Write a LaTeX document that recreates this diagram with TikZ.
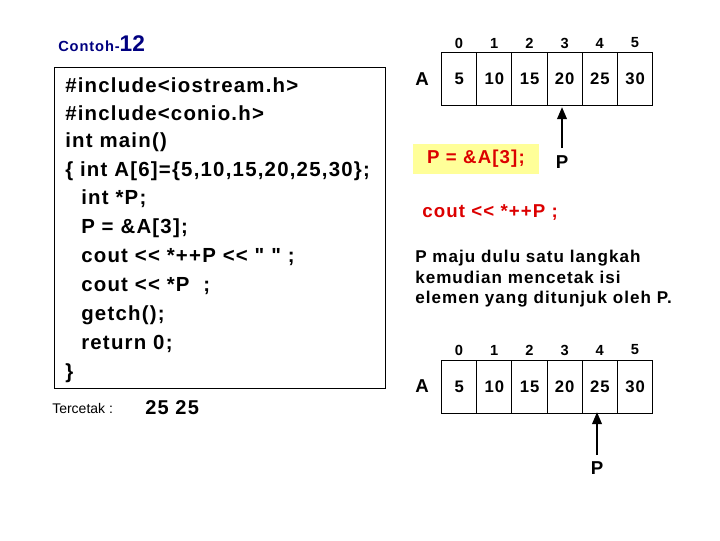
\documentclass[tikz,border=0pt]{standalone}
\usepackage{fontspec}
\setmainfont{Liberation Sans}[Ligatures=TeXOff]
\newfontfamily\wide{Liberation Sans}[Ligatures=TeXOff,LetterSpace=6]
\usetikzlibrary{arrows.meta}
\definecolor{navy}{RGB}{0,0,128}
\definecolor{redt}{RGB}{220,0,0}
\definecolor{yel}{RGB}{255,255,153}
\tikzset{code/.style={anchor=west,inner sep=0pt,font=\wide\fontsize{15.3}{16}\selectfont\bfseries},
 cell/.style={draw,line width=0.8pt,minimum width=26.4pt,minimum height=40pt,inner sep=0pt,anchor=north west,font=\wide\fontsize{12.5}{14}\selectfont\bfseries},
 idx/.style={font=\fontsize{11}{13}\selectfont\bfseries,inner sep=0pt},
 lbl/.style={font=\fontsize{14}{15}\selectfont\bfseries,inner sep=0pt},
 ptr/.style={-{Triangle[length=9pt,width=7pt]},line width=1.8pt}}
\begin{document}
\begin{tikzpicture}[x=0.75pt,y=-0.75pt]
\useasboundingbox (0,0) rectangle (720,540);
\node[anchor=west,inner sep=0pt,text=navy,font=\bfseries] (title) at (58,44) {{\wide\fontsize{11}{12}\selectfont Contoh-}{\fontsize{17}{18}\selectfont 12}};
\draw[line width=0.6pt] (54,67) rectangle (385,388);
\node[code] (c1) at (65,85) {\#include<iostream.h>};
\node[code] (c2) at (65,113) {\#include<conio.h>};
\node[code] (c3) at (65,142) {int main()};
\node[code] (c4) at (65,171) {\{ int A[6]=\{5,10,15,20,25,30\};};
\node[code] (c5) at (81,199) {int *P;};
\node[code] (c6) at (81,228) {P = \&A[3];};
\node[code] (c7) at (81,257) {cout << *++P << "~" ;};
\node[code] (c8) at (81,286) {cout << *P\ \ ;};
\node[code] (c9) at (81,315) {getch();};
\node[code] (c10) at (81,344) {return 0;};
\node[code] (c11) at (65,373) {\}};
\node[anchor=west,inner sep=0pt,font=\fontsize{10.5}{12}\selectfont] (terc) at (52,408) {Tercetak :};
\node[anchor=west,inner sep=0pt,font=\wide\fontsize{15}{16}\selectfont\bfseries] (out) at (145,408) {25 25};
% array 1
\node[lbl] (A1) at (422,79) {A};
\foreach \i/\v in {0/5,1/10,2/15,3/20,4/25,5/30}{
 \node[cell] (a\i) at (441+35.2*\i,52) {\v};
 \node[idx] (i\i) at (459+35.2*\i,43) {\i};
}
\node[lbl] (P1) at (562,162) {P};
\coordinate (t1) at (562,107);
\draw[ptr] (562,148) -- (t1);
\node[fill=yel,text=redt,font=\wide\fontsize{14}{15}\selectfont\bfseries,minimum width=94pt,minimum height=23pt,inner sep=0pt] (pa) at (476,159) {P = \&A[3];};
\node[anchor=west,inner sep=0pt,text=redt,font=\wide\fontsize{14}{15}\selectfont\bfseries] (cout) at (422,213) {cout << *++P ;};
\node[anchor=north west,align=left,inner sep=0pt,font=\wide\fontsize{12.8}{15.5}\selectfont\bfseries] (desc) at (415,250) {P maju dulu satu langkah\\kemudian mencetak isi\\elemen yang ditunjuk oleh P.};
% array 2
\node[lbl] (A2) at (422,386) {A};
\foreach \i/\v in {0/5,1/10,2/15,3/20,4/25,5/30}{
 \node[cell] (b\i) at (441+35.2*\i,360) {\v};
 \node[idx] (j\i) at (459+35.2*\i,350) {\i};
}
\node[lbl] (P2) at (597,468) {P};
\coordinate (t2) at (597,412);
\draw[ptr] (597,455) -- (t2);
\end{tikzpicture}
\end{document}
